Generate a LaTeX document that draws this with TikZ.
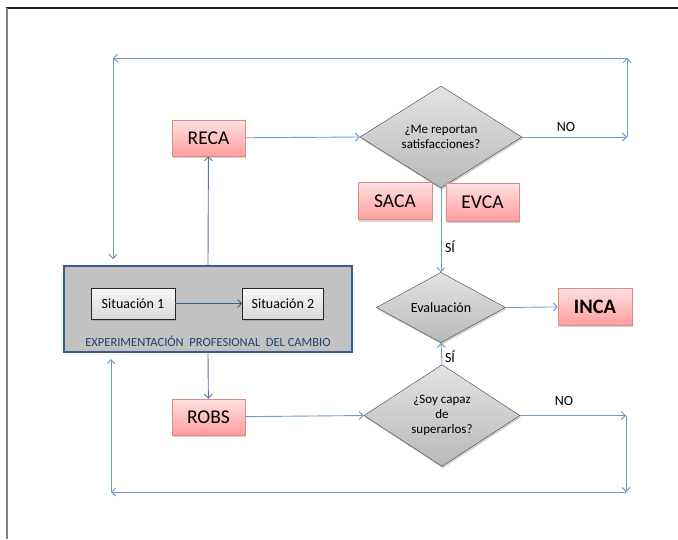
\documentclass[tikz,border=0pt]{standalone}
\usepackage{fontspec}
\setmainfont{Carlito}
\usepackage{tikz}
\usetikzlibrary{shapes.geometric, arrows.meta, positioning, shadows}
\definecolor{lineblue}{HTML}{7099CF}
\definecolor{darkblue}{HTML}{385D8A}
\definecolor{textblue}{HTML}{243F70}
\definecolor{redline}{HTML}{E08A88}
\tikzset{
    redbox/.style={rectangle, draw=redline, top color=red!12, bottom color=red!38, text centered, inner sep=0pt, minimum width=73pt, minimum height=36pt, font=\fontsize{19.5}{21}\selectfont, drop shadow={opacity=0.35, shadow xshift=1pt, shadow yshift=-2pt}},
    query/.style={diamond, draw=black!75, top color=gray!22, bottom color=gray!55, text centered, inner sep=0pt, align=center, font=\fontsize{13}{15}\selectfont, drop shadow={opacity=0.35, shadow xshift=1pt, shadow yshift=-2pt}},
    situacion/.style={rectangle, draw=black!85, top color=gray!5, bottom color=gray!30, text centered, inner sep=0pt, minimum height=31pt, font=\fontsize{14}{16}\selectfont, drop shadow={opacity=0.4, shadow xshift=1pt, shadow yshift=-2pt}},
    arrow/.style={draw=lineblue, line width=0.9pt, -{Straight Barb[length=4pt, width=8pt]}},
    label/.style={font=\fontsize{14}{16}\selectfont}
}
\begin{document}
\begin{tikzpicture}[x=1pt, y=-1pt, node distance=67pt and 67pt]
    \useasboundingbox (0,0) rectangle (678,539);
    % Frame
    \draw[black!85, line width=1.5pt] (6,8) -- (678,8);
    \draw[gray, line width=2pt] (7,8) -- (7,539);
    % Nodes
    \node (epc) [rectangle, draw=darkblue, line width=1.2pt, fill=gray!48, minimum width=288pt, minimum height=86pt] at (208,309) {};
    \node (sit1) [situacion, minimum width=84pt] at (133,303.5) {Situación 1};
    \node (sit2) [situacion, minimum width=81pt, right=of sit1] {Situación 2};
    \node (epcText) [text=textblue, font=\fontsize{12.5}{14}\selectfont] at (208,341) {EXPERIMENTACIÓN\ \ PROFESIONAL\ \ DEL CAMBIO};
    \node (reca) [redbox] at (208.5,138) {RECA};
    \node (robs) [redbox] at (208.5,417) {ROBS};
    \node (satisf) [query, minimum width=162pt, minimum height=80pt] at (441,137) {¿Me reportan\\satisfacciones?};
    \node (saca) [redbox, minimum width=74pt, minimum height=37pt] at (395,201) {SACA};
    \node (evca) [redbox, minimum height=38pt] at (482.5,202) {EVCA};
    \node (evaluacion) [query, minimum width=129pt, minimum height=59pt, font=\fontsize{14}{16}\selectfont] at (441,307.5) {Evaluación};
    \node (inca) [redbox, minimum width=74pt, minimum height=37pt, font=\fontsize{20.5}{22}\selectfont\bfseries] at (595,306.5) {INCA};
    \node (capaz) [query, minimum width=156pt, minimum height=79pt] at (442,415.5) {¿Soy capaz\\de\\superarlos?};
    \node (noTop) [label] at (566,127) {NO};
    \node (noBottom) [label] at (564,401) {NO};
    \node (siTop) [label] at (450,247) {SÍ};
    \node (siBottom) [label] at (450,357) {SÍ};
    % Loop corners
    \coordinate (topRight) at (627,58);
    \coordinate (topMid) at (627,137);
    \coordinate (topLeft) at (113,58);
    \coordinate (topEnd) at (113,259);
    \coordinate (botMid) at (626,415.5);
    \coordinate (botRight) at (626,492);
    \coordinate (botLeft) at (111,492);
    \coordinate (botEnd) at (111,359);
    % Arrows
    \draw [arrow, draw=darkblue] (sit1) -- (sit2);
    \draw [arrow, draw=darkblue!85] (epc.north) -- (reca);
    \draw [arrow, draw=darkblue!85] (epc.south) -- (robs);
    \draw [arrow] (reca) -- (satisf.west);
    \draw [arrow] (satisf.east) -- (topMid);
    \draw [arrow] (topMid) -- (topRight);
    \draw [arrow] (topRight) -- (topLeft);
    \draw [arrow] (topLeft) -- (topEnd);
    \draw [arrow] (satisf.south) -- (evaluacion.north);
    \draw [arrow] (evaluacion.east) -- (inca);
    \draw [arrow] (robs) -- (capaz.west);
    \draw [arrow] (capaz.north) -- (evaluacion.south);
    \draw [arrow] (capaz.east) -- (botMid);
    \draw [arrow] (botMid) -- (botRight);
    \draw [arrow] (botRight) -- (botLeft);
    \draw [arrow] (botLeft) -- (botEnd);
\end{tikzpicture}
\end{document}
